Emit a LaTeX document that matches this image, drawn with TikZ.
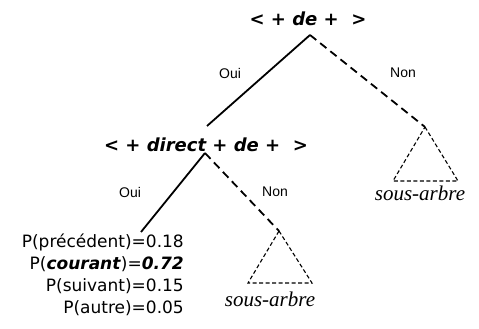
\documentclass[tikz,border=0pt]{standalone}
\usepackage{fontspec}
\setmainfont{DejaVu Sans}
\newfontfamily\arialf{Liberation Sans}
\newfontfamily\timesf{Liberation Serif}
\begin{document}
\begin{tikzpicture}[x=1pt,y=-1pt,
  branch/.style={line width=1.8pt},
  nobranch/.style={line width=1.8pt,dash pattern=on 8pt off 5pt},
  subtri/.style={line width=1.1pt,dash pattern=on 4pt off 2.5pt,fill=white},
  cond/.style={font=\fontsize{18}{20}\selectfont\bfseries\itshape,inner sep=0pt},
  edgelab/.style={font=\arialf\fontsize{14}{16}\selectfont,inner sep=0pt},
  sublab/.style={font=\timesf\itshape\fontsize{21}{23}\selectfont,inner sep=0pt},
  prob/.style={font=\fontsize{17}{19}\selectfont,anchor=east,inner sep=0pt}]
\useasboundingbox (0,0) rectangle (479,329);
% conditions
\node[cond] (root) at (308,19) {< + de +\ \ >};
\node[cond] (n2) at (206,145) {< + direct + de +\ \ >};
\coordinate (a1) at (310,35);
\coordinate (n2top) at (207,126);
\coordinate (a2) at (205,153);
\coordinate (leaf) at (141,232);
% subtrees
\coordinate (t1a) at (425,127);
\coordinate (t1l) at (393,181);
\coordinate (t1r) at (458,181);
\coordinate (t2a) at (279,231);
\coordinate (t2l) at (248,283);
\coordinate (t2r) at (312,283);
% branches
\draw[branch] (a1) -- (n2top);
\draw[nobranch] (a1) -- (t1a);
\draw[branch] (a2) -- (leaf);
\draw[nobranch] (a2) -- (t2a);
\draw[subtri] (t1a) -- (t1r) -- (t1l) -- cycle;
\draw[subtri] (t2a) -- (t2r) -- (t2l) -- cycle;
% labels
\node[edgelab] (o1) at (230,73) {Oui};
\node[edgelab] (no1) at (403,73) {Non};
\node[edgelab] (o2) at (130,192) {Oui};
\node[edgelab] (no2) at (275,192) {Non};
\node[sublab] (s1) at (420,193) {sous-arbre};
\node[sublab] (s2) at (270,299) {sous-arbre};
% probabilities
\node[prob] (p1) at (184,242) {P(précédent)=0.18};
\node[prob] (p2) at (184,264) {P(\textbf{\textit{courant}})=\textbf{\textit{0.72}}};
\node[prob] (p3) at (184,286) {P(suivant)=0.15};
\node[prob] (p4) at (184,308) {P(autre)=0.05};
\end{tikzpicture}
\end{document}
